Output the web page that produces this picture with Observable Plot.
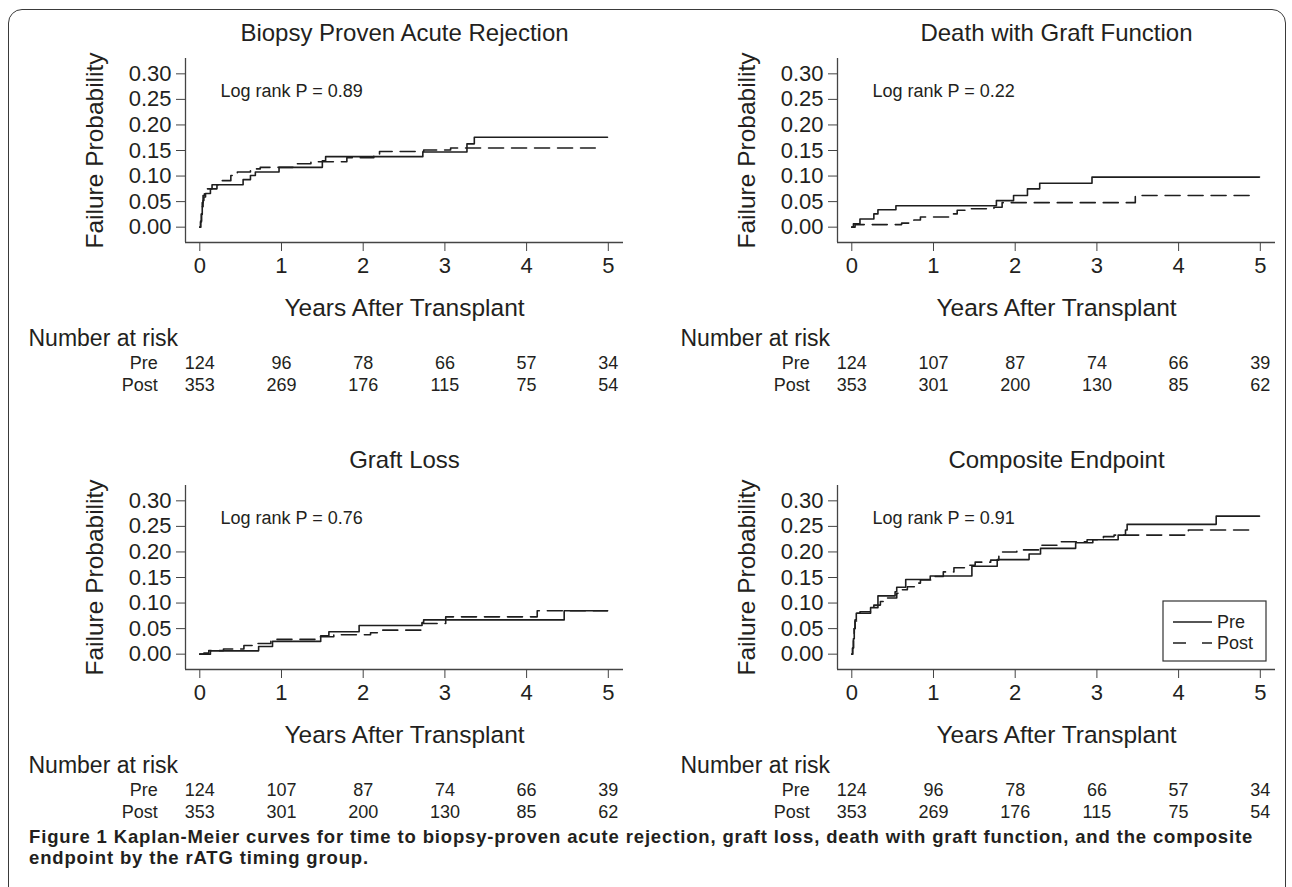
<!DOCTYPE html>
<html>
<head>
<meta charset="utf-8">
<script src="https://cdn.jsdelivr.net/npm/d3@7"></script>
<script src="https://cdn.jsdelivr.net/npm/@observablehq/plot@0.6"></script>
<style>
  body { margin: 0; background: #fff; }
  #fig { position: relative; width: 1292px; height: 887px; overflow: hidden; background: #fff; }
  .border { position: absolute; left: 8px; top: 9px; width: 1276px; height: 900px; border: 1.5px solid #3a3a3a; border-radius: 14px; }
  .panel { position: absolute; width: 650px; height: 420px; }
  .panel svg { max-width: none !important; display: block; }
  .caption { position: absolute; left: 29px; font-family: "Liberation Sans", Arial, sans-serif; font-weight: 700; font-size: 18.5px; letter-spacing: 0.85px; line-height: 21px; height: 21px; color: #231f20; white-space: nowrap; }
</style>
</head>
<body>
<div id="fig"><div class="border"></div></div>
<script>
// ---------- data ----------
const xTicks = [0, 1, 2, 3, 4, 5];
const yTicks = [0, 0.05, 0.10, 0.15, 0.20, 0.25, 0.30];
const groups = ["Pre", "Post"];

// Biopsy proven acute rejection
const bparPreT  = [0, 0.01, 0.02, 0.03, 0.04, 0.05, 0.07, 0.13, 0.21, 0.53, 0.62, 0.68, 0.97, 1.50, 1.54, 2.73, 3.27, 3.36, 4.99];
const bparPreF  = [0, 0.010, 0.025, 0.040, 0.052, 0.059, 0.066, 0.075, 0.083, 0.093, 0.101, 0.108, 0.117, 0.130, 0.138, 0.147, 0.163, 0.176, 0.176];
const bparPostT = [0, 0.01, 0.02, 0.03, 0.04, 0.057, 0.15, 0.25, 0.38, 0.46, 0.62, 0.74, 1.19, 1.36, 1.80, 2.13, 2.20, 2.74, 3.07, 4.84];
const bparPostF = [0, 0.012, 0.030, 0.048, 0.062, 0.075, 0.083, 0.091, 0.101, 0.108, 0.114, 0.117, 0.124, 0.128, 0.136, 0.143, 0.148, 0.151, 0.155, 0.155];
const bparRiskPre  = [124, 96, 78, 66, 57, 34];
const bparRiskPost = [353, 269, 176, 115, 75, 54];

// Death with graft function
const deathPreT  = [0, 0.02, 0.10, 0.27, 0.32, 0.54, 1.77, 1.98, 2.15, 2.30, 2.94, 4.99];
const deathPreF  = [0, 0.0065, 0.016, 0.026, 0.034, 0.042, 0.052, 0.062, 0.075, 0.086, 0.098, 0.098];
const deathPostT = [0, 0.04, 0.61, 0.76, 0.84, 1.21, 1.29, 1.41, 1.74, 1.84, 3.47, 4.94];
const deathPostF = [0, 0.005, 0.008, 0.014, 0.020, 0.026, 0.033, 0.036, 0.039, 0.048, 0.062, 0.062];
const deathRiskPre  = [124, 107, 87, 74, 66, 39];
const deathRiskPost = [353, 301, 200, 130, 85, 62];

// Graft loss
const lossPreT  = [0, 0.13, 0.72, 0.89, 1.48, 1.58, 1.95, 2.72, 2.74, 4.46, 4.99];
const lossPreF  = [0, 0.0065, 0.015, 0.025, 0.036, 0.044, 0.056, 0.062, 0.067, 0.085, 0.085];
const lossPostT = [0, 0.05, 0.11, 0.29, 0.54, 0.66, 0.87, 1.44, 1.64, 2.09, 2.21, 2.72, 3.01, 4.13, 4.99];
const lossPostF = [0, 0.002, 0.007, 0.010, 0.017, 0.021, 0.029, 0.034, 0.038, 0.042, 0.047, 0.060, 0.073, 0.085, 0.085];
const lossRiskPre  = [124, 107, 87, 74, 66, 39];
const lossRiskPost = [353, 301, 200, 130, 85, 62];

// Composite endpoint
const compPreT  = [0, 0.01, 0.02, 0.03, 0.04, 0.055, 0.10, 0.23, 0.32, 0.53, 0.55, 0.66, 0.96, 1.47, 1.78, 2.17, 2.31, 2.74, 2.95, 3.26, 3.35, 3.37, 4.46, 4.99];
const compPreF  = [0, 0.012, 0.030, 0.050, 0.067, 0.080, 0.083, 0.091, 0.114, 0.122, 0.131, 0.146, 0.153, 0.172, 0.185, 0.196, 0.207, 0.218, 0.224, 0.233, 0.243, 0.254, 0.270, 0.270];
const compPostT = [0, 0.01, 0.02, 0.03, 0.04, 0.06, 0.23, 0.27, 0.35, 0.43, 0.55, 0.59, 0.68, 0.78, 0.84, 1.00, 1.12, 1.25, 1.41, 1.51, 1.70, 1.80, 1.84, 2.02, 2.31, 2.55, 2.88, 3.08, 3.21, 4.12, 4.90];
const compPostF = [0, 0.012, 0.030, 0.050, 0.065, 0.080, 0.091, 0.096, 0.103, 0.110, 0.119, 0.126, 0.132, 0.139, 0.145, 0.152, 0.161, 0.169, 0.174, 0.180, 0.184, 0.194, 0.200, 0.204, 0.213, 0.220, 0.224, 0.230, 0.233, 0.243, 0.243];
const compRiskPre  = [124, 96, 78, 66, 57, 34];
const compRiskPost = [353, 269, 176, 115, 75, 54];

const titles = ["Biopsy Proven Acute Rejection", "Death with Graft Function", "Graft Loss", "Composite Endpoint"];
const pValues = ["0.89", "0.22", "0.76", "0.91"];
const yLabel = "Failure Probability";
const xLabel = "Years After Transplant";
const riskLabel = "Number at risk";
const captionLines = [
  "Figure 1 Kaplan-Meier curves for time to biopsy-proven acute rejection, graft loss, death with graft function, and the composite",
  "endpoint by the rATG timing group."
];

// ---------- drawing ----------
const FONT = "'Liberation Sans', Arial, Helvetica, sans-serif";
const INK = "#231f20";
const AXIS = "#444";
const xDomain = [-0.175, 5.186];
const yDomain = [-0.03, 0.33];
const fig = document.getElementById("fig");

function series(t, f) { return t.map((v, i) => ({t: v, f: f[i]})); }

function panel(opts) {
  const {title, p, preT, preF, postT, postF, riskPre, riskPost, left, top, legend} = opts;
  const wrap = document.createElement("div");
  wrap.className = "panel";
  wrap.style.left = left + "px";
  wrap.style.top = top + "px";

  const chart = Plot.plot({
    width: 650, height: 330,
    marginLeft: 185, marginRight: 27, marginTop: 58, marginBottom: 88,
    x: {domain: xDomain},
    y: {domain: yDomain},
    style: {fontFamily: FONT, background: "transparent", color: INK, overflow: "visible"},
    marks: [
      Plot.ruleX([xDomain[0]], {stroke: AXIS, strokeWidth: 1.3}),
      Plot.ruleY([yDomain[0]], {stroke: AXIS, strokeWidth: 1.3}),
      Plot.axisY({ticks: yTicks, tickFormat: d => d.toFixed(2), tickSize: 9, tickPadding: 5, fontSize: 22, label: null, stroke: AXIS, fill: INK}),
      Plot.axisX({ticks: xTicks, tickFormat: d => String(d), tickSize: 9, tickPadding: 6, fontSize: 22, label: null, stroke: AXIS, fill: INK}),
      Plot.line(series(postT, postF), {x: "t", y: "f", curve: "step-after", stroke: "#1e1e1e", strokeWidth: 1.6, strokeDasharray: "15,8"}),
      Plot.line(series(preT, preF), {x: "t", y: "f", curve: "step-after", stroke: "#1e1e1e", strokeWidth: 1.6}),
      Plot.text([title], {text: d => d, frameAnchor: "top", dy: -25, textAnchor: "middle", lineAnchor: "middle", fontSize: 24, fill: INK}),
      Plot.text([`Log rank P = ${p}`], {text: d => d, frameAnchor: "top-left", dx: 35, dy: 33, textAnchor: "start", lineAnchor: "middle", fontSize: 18, fill: INK}),
      Plot.text([yLabel], {text: d => d, frameAnchor: "left", rotate: -90, dx: -90, textAnchor: "middle", lineAnchor: "middle", fontSize: 24.5, fill: INK}),
      Plot.text([xLabel], {text: d => d, frameAnchor: "bottom", dy: 66, textAnchor: "middle", lineAnchor: "middle", fontSize: 24.5, fill: INK})
    ]
  });
  wrap.appendChild(chart);

  const rows = [];
  xTicks.forEach((t, i) => {
    rows.push({t, g: "Pre", n: riskPre[i]});
    rows.push({t, g: "Post", n: riskPost[i]});
  });
  const risk = Plot.plot({
    width: 650, height: 90,
    marginLeft: 185, marginRight: 27, marginTop: 0, marginBottom: 0,
    x: {domain: xDomain, axis: null},
    y: {type: "point", domain: groups, range: [53, 75], padding: 0, axis: null},
    style: {fontFamily: FONT, background: "transparent", color: INK, overflow: "visible"},
    marks: [
      Plot.text(rows, {x: "t", y: "g", text: d => String(d.n), lineAnchor: "middle", fontSize: 18, fill: INK}),
      Plot.text(groups, {x: xTicks[0], y: d => d, text: d => d, dx: -42, textAnchor: "end", lineAnchor: "middle", fontSize: 18, fill: INK}),
      Plot.text([riskLabel], {text: d => d, frameAnchor: "top-left", dx: -157, dy: 28, textAnchor: "start", lineAnchor: "middle", fontSize: 23, fill: INK})
    ]
  });
  risk.style.position = "absolute";
  risk.style.left = "0px";
  risk.style.top = "310px";
  wrap.appendChild(risk);

  if (legend) {
    const ns = "http://www.w3.org/2000/svg";
    const lg = document.createElementNS(ns, "svg");
    lg.setAttribute("width", 106); lg.setAttribute("height", 63);
    lg.style.position = "absolute"; lg.style.left = "510px"; lg.style.top = "173px";
    lg.innerHTML = `
      <rect x="1" y="1" width="103" height="60" fill="#fff" stroke="#333" stroke-width="1.2"/>
      <line x1="11" x2="50" y1="22" y2="22" stroke="#1e1e1e" stroke-width="1.6"/>
      <line x1="11" x2="50" y1="43" y2="43" stroke="#1e1e1e" stroke-width="1.6" stroke-dasharray="13,16"/>
      <text x="55" y="22" dy="0.35em" font-family="${FONT}" font-size="18" fill="${INK}">${groups[0]}</text>
      <text x="55" y="43" dy="0.35em" font-family="${FONT}" font-size="18" fill="${INK}">${groups[1]}</text>`;
    wrap.appendChild(lg);
  }
  fig.appendChild(wrap);
}

panel({title: titles[0], p: pValues[0], preT: bparPreT, preF: bparPreF, postT: bparPostT, postF: bparPostF, riskPre: bparRiskPre, riskPost: bparRiskPost, left: 0, top: 0});
panel({title: titles[1], p: pValues[1], preT: deathPreT, preF: deathPreF, postT: deathPostT, postF: deathPostF, riskPre: deathRiskPre, riskPost: deathRiskPost, left: 652, top: 0});
panel({title: titles[2], p: pValues[2], preT: lossPreT, preF: lossPreF, postT: lossPostT, postF: lossPostF, riskPre: lossRiskPre, riskPost: lossRiskPost, left: 0, top: 427});
panel({title: titles[3], p: pValues[3], preT: compPreT, preF: compPreF, postT: compPostT, postF: compPostF, riskPre: compRiskPre, riskPost: compRiskPost, left: 652, top: 427, legend: true});

captionLines.forEach((line, i) => {
  const d = document.createElement("div");
  d.className = "caption";
  d.style.top = (826 + i * 21) + "px";
  d.textContent = line;
  fig.appendChild(d);
});
</script>
</body>
</html>
